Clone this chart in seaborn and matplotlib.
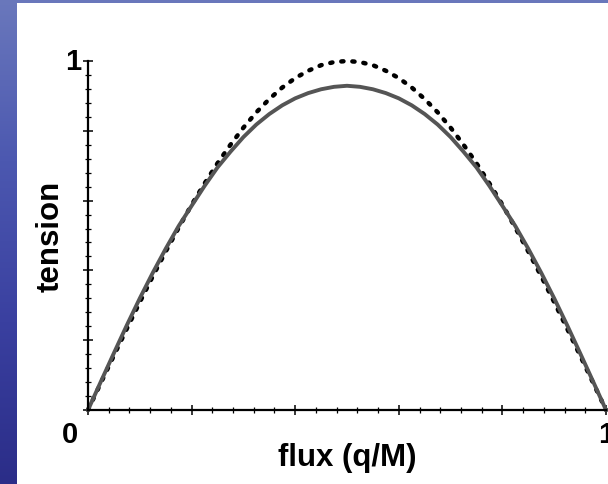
import numpy as np
import pandas as pd
import matplotlib
matplotlib.use("Agg")
import matplotlib.pyplot as plt
from matplotlib.colors import LinearSegmentedColormap
from matplotlib.patches import Rectangle
from matplotlib.ticker import MultipleLocator
import seaborn as sns

# flux (q/M) sample positions
flux = [0.000, 0.025, 0.050, 0.075, 0.100, 0.125, 0.150, 0.175, 0.200, 0.225,
        0.250, 0.275, 0.300, 0.325, 0.350, 0.375, 0.400, 0.425, 0.450, 0.475,
        0.500, 0.525, 0.550, 0.575, 0.600, 0.625, 0.650, 0.675, 0.700, 0.725,
        0.750, 0.775, 0.800, 0.825, 0.850, 0.875, 0.900, 0.925, 0.950, 0.975,
        1.000]

# dotted curve: reference tension
tension_ref = [0.000, 0.078, 0.156, 0.233, 0.309, 0.383, 0.454, 0.522, 0.588, 0.649,
               0.707, 0.760, 0.809, 0.853, 0.891, 0.924, 0.951, 0.972, 0.988, 0.997,
               1.000, 0.997, 0.988, 0.972, 0.951, 0.924, 0.891, 0.853, 0.809, 0.760,
               0.707, 0.649, 0.588, 0.522, 0.454, 0.383, 0.309, 0.233, 0.156, 0.078,
               0.000]

# solid curve: tension
tension = [0.000, 0.082, 0.163, 0.243, 0.320, 0.393, 0.462, 0.527, 0.585, 0.642,
           0.695, 0.740, 0.782, 0.818, 0.848, 0.873, 0.893, 0.908, 0.919, 0.926,
           0.929, 0.926, 0.919, 0.908, 0.893, 0.873, 0.848, 0.818, 0.782, 0.740,
           0.695, 0.642, 0.585, 0.527, 0.462, 0.393, 0.320, 0.243, 0.163, 0.082,
           0.000]

x_label = "flux (q/M)"
y_label = "tension"

sns.set_style("white")
plt.rcParams["font.family"] = ["Liberation Sans", "DejaVu Sans"]

W, H = 608, 485
fig = plt.figure(figsize=(W / 100, H / 100), dpi=100)

# slide-style blue backdrop with a white card on top
bg = fig.add_axes([0, 0, 1, 1])
bg.axis("off")
cmap = LinearSegmentedColormap.from_list("slide", ["#6a78bc", "#4c58b0", "#3a40a0", "#2b2d88"])
bg.imshow(np.linspace(0, 1, 256)[:, None], cmap=cmap, aspect="auto",
          extent=[0, 1, 0, 1], transform=bg.transAxes)
bg.set_xlim(0, 1)
bg.set_ylim(0, 1)
fig.patches.append(Rectangle((17 / W, 0), 1 - 17 / W, 1 - 4 / H, transform=fig.transFigure,
                             facecolor="white", edgecolor="none", zorder=1))
bg.set_zorder(0)

ax = fig.add_axes([88 / W, 74 / H, 518 / W, 349 / H])
ax.set_zorder(2)
ax.patch.set_alpha(0)

df = pd.DataFrame({"flux": flux, "tension": tension, "tension_ref": tension_ref})

sns.lineplot(data=df, x="flux", y="tension_ref", ax=ax, color="black", linewidth=3.2,
             linestyle=(0, (0.5, 2.0)), dash_capstyle="round", clip_on=False)
sns.lineplot(data=df, x="flux", y="tension", ax=ax, color="#555555", linewidth=2.8,
             clip_on=False, solid_capstyle="round")

ax.set_xlim(0, 1)
ax.set_ylim(0, 1)
for side in ("top", "right"):
    ax.spines[side].set_visible(False)
for side in ("left", "bottom"):
    ax.spines[side].set_linewidth(1.6)
    ax.spines[side].set_color("black")

ax.xaxis.set_major_locator(MultipleLocator(0.2))
ax.xaxis.set_minor_locator(MultipleLocator(0.04))
ax.yaxis.set_major_locator(MultipleLocator(0.2))
ax.yaxis.set_minor_locator(MultipleLocator(0.04))
ax.tick_params(which="major", direction="inout", length=7, width=1.1, color="black",
               bottom=True, left=True, labelbottom=False, labelleft=False)
ax.tick_params(which="minor", direction="inout", length=4, width=0.9, color="black",
               bottom=True, left=True)

ax.set_xlabel("")
ax.set_ylabel("")

lab = dict(fontsize=22.5, fontweight="bold", color="black")
ax.text(0.5, -0.135, x_label, transform=ax.transAxes, ha="center", va="center", **lab)
ax.text(-0.073, 0.5, y_label, transform=ax.transAxes, ha="center", va="center",
        rotation=90, **lab)

num = dict(fontsize=21, fontweight="bold", color="black")
ax.text(-0.034, -0.07, "0", transform=ax.transAxes, ha="center", va="center", **num)
ax.text(1.0, -0.07, "1", transform=ax.transAxes, ha="center", va="center",
        clip_on=False, **num)
ax.text(-0.029, 1.0, "1", transform=ax.transAxes, ha="center", va="center", **num)

fig.savefig("out.png", dpi=100)
